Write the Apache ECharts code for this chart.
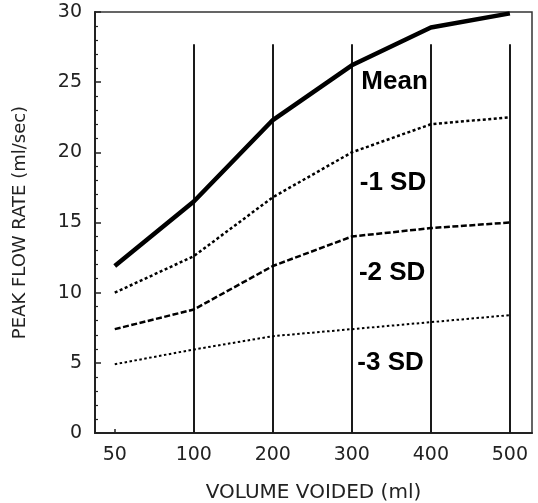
<!DOCTYPE html>
<html>
<head>
<meta charset="utf-8">
<script src="https://cdn.jsdelivr.net/npm/echarts@6/dist/echarts.min.js"></script>
<style>
  html, body { margin: 0; padding: 0; background: #fff; }
  #chart { width: 538px; height: 503px; }
</style>
</head>
<body>
<div id="chart"></div>
<script>
// Voided volume categories (ml) and peak flow rate curves (ml/sec)
const volumes = ['50', '100', '200', '300', '400', '500'];
const meanFlow = [11.9, 16.5, 22.3, 26.2, 28.9, 29.9];
const minus1SD = [10.0, 12.6, 16.8, 20.0, 22.0, 22.5];
const minus2SD = [7.4, 8.8, 11.9, 14.0, 14.6, 15.0];
const minus3SD = [4.9, 5.95, 6.9, 7.4, 7.9, 8.4];
const yTicks = [0, 5, 10, 15, 20, 25, 30];

// Curve captions: [category index, flow value, text]
const curveLabels = [
  [3.12, 25.0, 'Mean'],
  [3.1, 17.85, '-1 SD'],
  [3.09, 11.4, '-2 SD'],
  [3.07, 5.0, '-3 SD']
];
// Reference verticals drawn at these categories, up to this flow value
const verticalAt = [1, 2, 3, 4, 5];
const verticalTop = 27.7;

const ink = '#000';
const axisFont = '"DejaVu Sans", Verdana, sans-serif';
const toPoints = arr => arr.map((v, i) => [i, v]);

const chart = echarts.init(document.getElementById('chart'), null, { renderer: 'canvas' });

chart.setOption({
  animation: false,
  backgroundColor: '#fff',
  textStyle: { fontFamily: axisFont },
  grid: {
    left: 95, right: 6, top: 12, bottom: 70,
    containLabel: false,
    outerBoundsMode: 'none',
    show: true, borderColor: '#333', borderWidth: 1.5, backgroundColor: 'transparent'
  },
  xAxis: {
    type: 'value',
    min: -0.25,
    max: 5.28,
    name: 'VOLUME VOIDED (ml)',
    nameLocation: 'middle',
    nameGap: 50,
    nameTextStyle: { fontFamily: axisFont, fontSize: 20, color: '#222' },
    axisLine: { show: true, onZero: false, lineStyle: { color: '#222', width: 2 } },
    axisTick: { show: true, inside: true, length: 4, customValues: [0, 1, 2, 3, 4, 5], lineStyle: { color: '#222', width: 1.5 } },
    axisLabel: {
      customValues: [0, 1, 2, 3, 4, 5],
      formatter: v => volumes[Math.round(v)],
      fontFamily: axisFont, fontSize: 19, color: '#222', margin: 13
    },
    splitLine: { show: false }
  },
  yAxis: {
    type: 'value',
    min: 0,
    max: 30,
    interval: 5,
    name: 'PEAK FLOW RATE (ml/sec)',
    nameLocation: 'middle',
    nameGap: 66,
    nameTextStyle: { fontFamily: axisFont, fontSize: 18, color: '#222' },
    axisLine: { show: true, onZero: false, lineStyle: { color: '#222', width: 2 } },
    axisTick: { show: true, inside: true, length: 6, lineStyle: { color: '#222', width: 1.5 } },
    minorTick: { show: true, splitNumber: 5, length: 3, lineStyle: { color: '#222', width: 1.2 } },
    axisLabel: {
      customValues: yTicks,
      fontFamily: axisFont, fontSize: 19, color: '#222', margin: 13
    },
    splitLine: { show: false }
  },
  series: [
    {
      name: 'verticals',
      type: 'line',
      data: [],
      silent: true,
      markLine: {
        silent: true,
        symbol: 'none',
        label: { show: false },
        lineStyle: { color: '#1a1a1a', width: 2, type: 'solid' },
        data: verticalAt.map(x => [{ coord: [x, 0] }, { coord: [x, verticalTop] }])
      }
    },
    {
      name: 'Mean',
      type: 'line',
      data: toPoints(meanFlow),
      symbol: 'none',
      lineStyle: { color: ink, width: 4.5, type: 'solid' },
      z: 5
    },
    {
      name: '-1 SD',
      type: 'line',
      data: toPoints(minus1SD),
      symbol: 'none',
      lineStyle: { color: ink, width: 2.5, type: [3, 2.5] },
      z: 5
    },
    {
      name: '-2 SD',
      type: 'line',
      data: toPoints(minus2SD),
      symbol: 'none',
      lineStyle: { color: ink, width: 2.5, type: [6, 2.5] },
      z: 5
    },
    {
      name: '-3 SD',
      type: 'line',
      data: toPoints(minus3SD),
      symbol: 'none',
      lineStyle: { color: ink, width: 2, type: [2.5, 2.5] },
      z: 5
    },
    {
      name: 'captions',
      type: 'scatter',
      symbolSize: 0,
      silent: true,
      itemStyle: { opacity: 1 },
      data: curveLabels.map(d => ({ value: [d[0], d[1]], name: d[2] })),
      label: {
        show: true,
        position: 'right',
        distance: 0,
        formatter: '{b}',
        fontFamily: '"Liberation Sans", Arial, sans-serif',
        fontWeight: 'bold',
        fontSize: 26,
        color: '#000',
        opacity: 1
      },
      z: 6
    }
  ]
});
</script>
</body>
</html>
